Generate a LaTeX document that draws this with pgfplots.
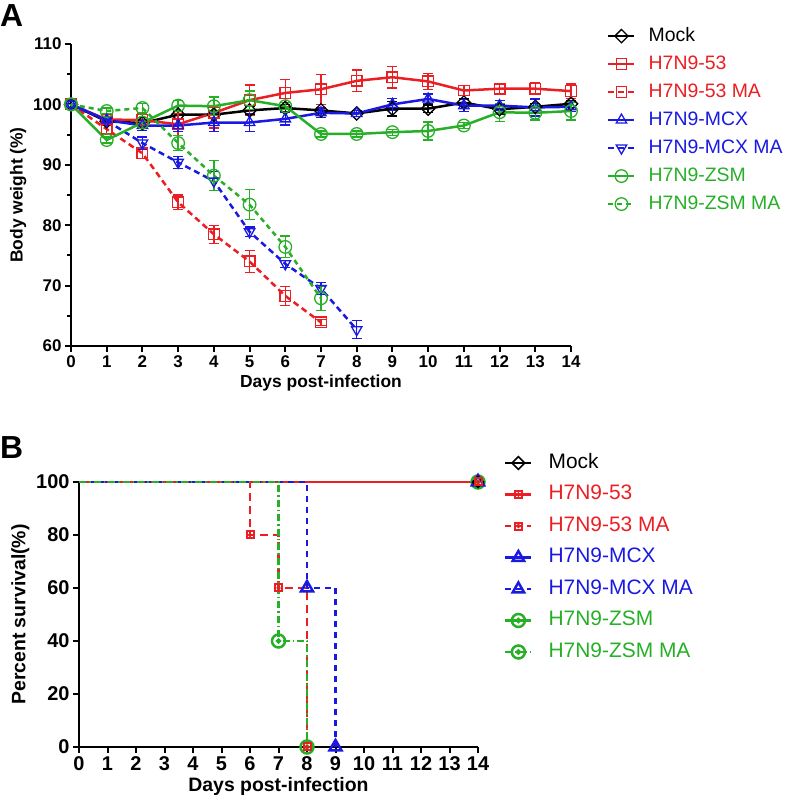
\documentclass[border=0pt]{standalone}
\usepackage{pgfplots}
\pgfplotsset{compat=1.18}
\usepackage{fontspec}
\setmainfont{Liberation Sans}

\definecolor{cred}{RGB}{235,30,35}
\definecolor{cblue}{RGB}{25,25,225}
\definecolor{cgreen}{RGB}{40,175,40}

% open circle with a dot, open square with a dot (survival marks)
\pgfdeclareplotmark{odot}{%
  \pgfpathcircle{\pgfpointorigin}{\pgfplotmarksize}\pgfusepathqstroke
  \pgfpathcircle{\pgfpointorigin}{0.22\pgfplotmarksize}\pgfusepathqfillstroke}
\pgfdeclareplotmark{sqdot}{%
  \pgfpathrectangle{\pgfpoint{-\pgfplotmarksize}{-\pgfplotmarksize}}{\pgfpoint{2\pgfplotmarksize}{2\pgfplotmarksize}}\pgfusepathqstroke
  \pgfpathcircle{\pgfpointorigin}{0.3\pgfplotmarksize}\pgfusepathqfillstroke}

\newcommand\tickA{\fontsize{17}{17}\selectfont\bfseries}
\newcommand\labA{\fontsize{17.5}{18}\selectfont\bfseries}
\newcommand\legA{\fontsize{19.5}{22}\selectfont}
\newcommand\tickB{\fontsize{20}{20}\selectfont\bfseries}
\newcommand\labB{\fontsize{19.5}{20}\selectfont\bfseries}
\newcommand\legB{\fontsize{21}{23}\selectfont}

\tikzset{mk/.style={solid, fill=white, line width=1.3bp}}
\pgfplotsset{
  wt/.style={line width=2.5bp, mark size=5.3bp,
    error bars/y dir=both, error bars/y explicit,
    error bars/error bar style={line width=1.3bp, solid},
    error bars/error mark options={rotate=90, mark size=5bp, line width=1.3bp, solid}},
  madash/.style={dash pattern=on 6bp off 4bp},
}

\begin{document}
\begin{tikzpicture}
\useasboundingbox (0,0) rectangle (787bp,810bp);
\node[anchor=north west,inner sep=0,font=\fontsize{32}{32}\selectfont\bfseries] at (0bp,806bp) {A};
\node[anchor=north west,inner sep=0,font=\fontsize{32}{32}\selectfont\bfseries] at (0bp,374bp) {B};

\begin{axis}[
  at={(71bp,464bp)}, anchor=south west, scale only axis,
  width=500bp, height=302bp,
  xmin=0, xmax=14, ymin=60, ymax=110,
  axis lines*=left, clip=false,
  axis line style={line width=2.5bp},
  tick style={line width=2bp, black}, tick align=outside,
  major tick length=6bp, minor tick length=4bp,
  xtick={0,...,14}, ytick={60,70,...,110}, minor ytick={65,75,...,105},
  /pgf/number format/assume math mode=true,
  ticklabel style={font=\tickA},
  xlabel={Days post-infection}, ylabel={Body weight (\%)},
  label style={font=\labA},
  legend style={at={(1.072,1.06)}, anchor=north west, draw=none, fill=none,
    font=\legA, row sep=8bp, column sep=12bp, inner sep=0pt,
    nodes={inner sep=1bp, text height=14bp, text depth=4bp}},
  legend cell align=left,
  legend image code/.code={\draw[mark repeat=2,mark phase=2] plot coordinates {(0bp,0bp)(13bp,0bp)(26bp,0bp)};},
]
% Mock
\addplot[wt, black, mark=square, mark options={mk, rotate=45, mark size=4.7bp}] coordinates {
(0,100)+-(0,0) (1,97.2)+-(0,0.6) (2,96.9)+-(0,0.6) (3,98.3)+-(0,0.6) (4,98.3)+-(0,0.6)
(5,99.0)+-(0,0.7) (6,99.4)+-(0,0.6) (7,99.0)+-(0,0.5) (8,98.5)+-(0,0.5) (9,99.3)+-(0,1.2)
(10,99.3)+-(0,0.6) (11,100.3)+-(0,0.6) (12,99.2)+-(0,0.8) (13,99.6)+-(0,0.6) (14,100.1)+-(0,0.6)};
\addlegendentry{Mock}
% H7N9-53
\addplot[wt, cred, mark=square, mark options={mk}] coordinates {
(0,100)+-(0,0) (1,97.5)+-(0,1.0) (2,97.4)+-(0,1.0) (3,96.7)+-(0,1.8) (4,98.6)+-(0,2.5)
(5,100.7)+-(0,2.5) (6,101.9)+-(0,2.2) (7,102.5)+-(0,2.5) (8,103.9)+-(0,1.8) (9,104.5)+-(0,1.8)
(10,103.8)+-(0,1.3) (11,102.3)+-(0,0.8) (12,102.6)+-(0,0.8) (13,102.6)+-(0,1.0) (14,102.2)+-(0,1.2)};
\addlegendentry{\textcolor{cred}{H7N9-53}}
% H7N9-53 MA
\addplot[wt, cred, madash, mark=square, mark options={mk}] coordinates {
(0,100)+-(0,0) (1,95.9)+-(0,0.8) (2,91.9)+-(0,0.9) (3,83.8)+-(0,1.2) (4,78.5)+-(0,1.5)
(5,74.0)+-(0,1.8) (6,68.3)+-(0,1.6) (7,63.9)+-(0,0.5)};
\addlegendentry{\textcolor{cred}{H7N9-53 MA}}
% H7N9-MCX
\addplot[wt, cblue, mark=triangle, mark options={mk, mark size=6bp}] coordinates {
(0,100)+-(0,0) (1,97.4)+-(0,0.5) (2,96.5)+-(0,0.8) (3,96.5)+-(0,1.0) (4,97.0)+-(0,1.5)
(5,97.0)+-(0,1.5) (6,97.6)+-(0,1.0) (7,98.6)+-(0,0.8) (8,98.5)+-(0,0.5) (9,100.0)+-(0,1.0)
(10,100.9)+-(0,0.8) (11,99.8)+-(0,1.0) (12,99.8)+-(0,0.8) (13,99.5)+-(0,1.4) (14,99.6)+-(0,0.8)};
\addlegendentry{\textcolor{cblue}{H7N9-MCX}}
% H7N9-MCX MA
\addplot[wt, cblue, madash, mark=triangle, mark options={mk, rotate=180, mark size=6bp}] coordinates {
(0,100)+-(0,0) (1,97.3)+-(0,0.5) (2,93.6)+-(0,1.0) (3,90.4)+-(0,1.0) (4,87.3)+-(0,1.6)
(5,78.9)+-(0,0.8) (6,73.6)+-(0,0.6) (7,69.5)+-(0,1.0) (8,62.7)+-(0,1.5)};
\addlegendentry{\textcolor{cblue}{H7N9-MCX MA}}
% H7N9-ZSM
\addplot[wt, cgreen, mark=o, mark options={mk, mark size=6.3bp}] coordinates {
(0,100)+-(0,0) (1,94.1)+-(0,0.5) (2,97.0)+-(0,0.8) (3,99.8)+-(0,0.8) (4,99.7)+-(0,1.5)
(5,100.7)+-(0,1.5) (6,99.7)+-(0,0.6) (7,95.1)+-(0,0.5) (8,95.1)+-(0,0.5) (9,95.4)+-(0,0.5)
(10,95.6)+-(0,1.5) (11,96.5)+-(0,0.5) (12,98.7)+-(0,1.5) (13,98.6)+-(0,1.2) (14,98.9)+-(0,1.5)};
\addlegendentry{\textcolor{cgreen}{H7N9-ZSM}}
% H7N9-ZSM MA
\addplot[wt, cgreen, dash pattern=on 5bp off 4bp, mark=o, mark options={mk, mark size=6.3bp}] coordinates {
(0,100)+-(0,0) (1,98.9)+-(0,0.5) (2,99.4)+-(0,0.8) (3,93.6)+-(0,1.2) (4,88.2)+-(0,2.5)
(5,83.4)+-(0,2.5) (6,76.4)+-(0,1.8) (7,67.9)+-(0,2.0)};
\addlegendentry{\textcolor{cgreen}{H7N9-ZSM MA}}
\end{axis}

\begin{axis}[
  at={(79bp,63bp)}, anchor=south west, scale only axis,
  width=399bp, height=265bp,
  xmin=0, xmax=14, ymin=0, ymax=100,
  axis lines*=left, clip=false,
  axis line style={line width=2.5bp},
  tick style={line width=2bp, black}, tick align=outside,
  major tick length=6bp,
  xtick={0,...,14}, ytick={0,20,...,100},
  /pgf/number format/assume math mode=true,
  ticklabel style={font=\tickB},
  xlabel={Days post-infection}, ylabel={Percent survival(\%)},
  label style={font=\labB},
  legend style={at={(1.065,1.113)}, anchor=north west, draw=none, fill=none,
    font=\legB, row sep=10bp, column sep=15bp, inner sep=0pt,
    nodes={inner sep=1bp, text height=15bp, text depth=4.5bp}},
  legend cell align=left,
  legend image code/.code={\draw[mark repeat=2,mark phase=2] plot coordinates {(0bp,0bp)(13bp,0bp)(26bp,0bp)};},
]
% all groups surviving: line at 100 and end marks at day 14
\addplot[cred, line width=1.5bp, forget plot] coordinates {(0,100) (14,100)};
% H7N9-53 MA
\addplot[cred, line width=2.5bp, dash pattern=on 8bp off 5bp, const plot mark left, forget plot] coordinates {(0,100) (6,80) (7,60) (8,0)};
% H7N9-MCX MA
\addplot[cblue, line width=2.5bp, dash pattern=on 6bp off 5bp, const plot mark left, forget plot] coordinates {(0,100) (8,60) (9,0)};
% H7N9-ZSM MA
\addplot[cgreen, line width=2.5bp, dash pattern=on 7bp off 3bp on 1.5bp off 3bp, const plot mark left, forget plot] coordinates {(0,100) (7,40) (8,0)};
% marks
\addplot[only marks, cgreen, mark=odot, mark size=6.5bp, line width=2.5bp, forget plot] coordinates {(7,40) (8,0) (14,100)};
\addplot[only marks, cblue, mark=triangle, mark size=7bp, line width=2.5bp, forget plot] coordinates {(8,60) (9,0) (14,100)};
\addplot[only marks, black, mark=square, mark size=4bp, mark options={rotate=45}, line width=1.5bp, forget plot] coordinates {(14,100)};
\addplot[only marks, cred, mark=sqdot, mark size=3.5bp, line width=2bp, forget plot] coordinates {(6,80) (7,60) (8,0) (14,100)};

\addlegendimage{black, line width=2.5bp, mark=square, mark size=4.5bp, mark options={rotate=45, fill=white, line width=1.5bp}}
\addlegendentry{Mock}
\addlegendimage{cred, line width=2.5bp, mark=sqdot, mark size=3.5bp, mark options={line width=2bp}}
\addlegendentry{\textcolor{cred}{H7N9-53}}
\addlegendimage{cred, line width=2.5bp, dash pattern=on 6bp off 5bp, mark=sqdot, mark size=3.5bp, mark options={solid, line width=2bp}}
\addlegendentry{\textcolor{cred}{H7N9-53 MA}}
\addlegendimage{cblue, line width=2.5bp, mark=triangle, mark size=6.5bp, mark options={line width=2.5bp}}
\addlegendentry{\textcolor{cblue}{H7N9-MCX}}
\addlegendimage{cblue, line width=2.5bp, dash pattern=on 6bp off 5bp, mark=triangle, mark size=6.5bp, mark options={solid, line width=2.5bp}}
\addlegendentry{\textcolor{cblue}{H7N9-MCX MA}}
\addlegendimage{cgreen, line width=2.5bp, mark=odot, mark size=6.5bp, mark options={line width=2.5bp}}
\addlegendentry{\textcolor{cgreen}{H7N9-ZSM}}
\addlegendimage{cgreen, line width=2.5bp, dash pattern=on 7bp off 3bp on 1.5bp off 3bp, mark=odot, mark size=6.5bp, mark options={solid, line width=2.5bp}}
\addlegendentry{\textcolor{cgreen}{H7N9-ZSM MA}}
\end{axis}
\end{tikzpicture}
\end{document}
